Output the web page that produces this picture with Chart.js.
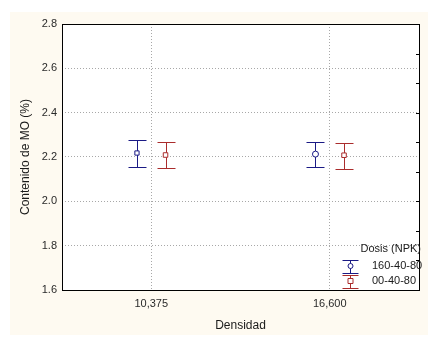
<!DOCTYPE html>
<html><head><meta charset="utf-8">
<script src="https://cdn.jsdelivr.net/npm/chart.js@4.4.0/dist/chart.umd.min.js"></script>
<style>html,body{margin:0;padding:0;background:#fff}#wrap{width:436px;height:352px}</style>
</head><body><div id="wrap"><canvas id="ch" width="436" height="352"></canvas></div>
<script>
/* ---------- datos ---------- */
const categories=['10,375','16,600'];
const seriesNames=['160-40-80','00-40-80'];
const meanA=[2.218,2.213], lowA=[2.155,2.155], highA=[2.277,2.269];
const meanB=[2.209,2.208], lowB=[2.150,2.144], highB=[2.268,2.262];
const legendTitle='Dosis (NPK)';

const BLUE='#1a1a85', RED='#aa2c2c';
const SHIFT=0.08; // desplazamiento de cada serie dentro de la categoría
const FONT='"Liberation Sans", Arial, sans-serif';

const mk=(means,lo,hi,dx)=>means.map((m,i)=>({x:i+0.5+dx,y:m,lo:lo[i],hi:hi[i]}));

/* ---------- plugins ---------- */
const bgPlugin={id:'bg',beforeDraw(c){const x=c.ctx;x.save();x.fillStyle='#fff';x.fillRect(0,0,c.width,c.height);x.fillStyle='#fefaf1';x.fillRect(10,12,418,323);x.fillStyle='#fff';const a=c.chartArea;x.fillRect(a.left,a.top,a.right-a.left,a.bottom-a.top);x.restore();}};

const errPlugin={id:'err',beforeDatasetsDraw(c){
  const x=c.ctx,ys=c.scales.y;
  c.data.datasets.forEach((ds,di)=>{
    const meta=c.getDatasetMeta(di);
    x.save();x.strokeStyle=ds.borderColor;x.lineWidth=1;
    ds.data.forEach((d,i)=>{
      const px=Math.round(meta.data[i].x)+0.5,t=Math.round(ys.getPixelForValue(d.hi))+0.5,b=Math.round(ys.getPixelForValue(d.lo))+0.5;
      x.beginPath();x.moveTo(px,t);x.lineTo(px,b);x.moveTo(px-9,t);x.lineTo(px+9,t);x.moveTo(px-9,b);x.lineTo(px+9,b);x.stroke();
    });
    x.restore();
  });
}};

const framePlugin={id:'frame',afterDraw(c){
  const x=c.ctx,a=c.chartArea;
  x.save();x.strokeStyle='#000';x.lineWidth=1;
  x.strokeRect(Math.round(a.left)+0.5,Math.round(a.top)+0.5,Math.round(a.right-a.left),Math.round(a.bottom-a.top));
  // marcas menores en el eje derecho
  const y2=c.scales.y2;
  x.beginPath();
  y2.ticks.forEach(t=>{const py=Math.round(y2.getPixelForValue(t.value))+0.5;x.moveTo(a.right-3,py);x.lineTo(a.right,py);});
  x.stroke();
  // leyenda
  x.font='11px '+FONT;x.fillStyle='#1a1a1a';x.textBaseline='middle';
  x.textAlign='right';x.fillText(legendTitle,a.right+2,a.bottom-41);
  x.textAlign='left';
  c.data.datasets.forEach((ds,i)=>{
    const cy=a.bottom-24+i*15,cx=350.5;
    x.strokeStyle=ds.borderColor;x.beginPath();
    x.moveTo(cx-8,Math.round(cy-6)+0.5);x.lineTo(cx+8,Math.round(cy-6)+0.5);
    x.moveTo(cx-8,Math.round(cy+7)+0.5);x.lineTo(cx+8,Math.round(cy+7)+0.5);
    x.moveTo(cx,cy-6);x.lineTo(cx,cy+7);x.stroke();
    x.fillStyle='#fff';x.beginPath();
    if(i===0){x.arc(cx,cy,2.5,0,Math.PI*2);}else{x.rect(cx-2.5,cy-2.5,5,5);}
    x.fill();x.stroke();
    x.fillStyle='#1a1a1a';x.fillText(ds.label,a.right-47,cy);
  });
  x.restore();
}};

const gridOpts={color:'#a8a8a8',lineWidth:1,drawTicks:false};

new Chart(document.getElementById('ch'),{
  type:'scatter',
  data:{datasets:[
    {label:seriesNames[0],data:mk(meanA,lowA,highA,-SHIFT),borderColor:BLUE,backgroundColor:'#fff',pointStyle:['rect','circle'],pointRadius:3,pointBorderWidth:1},
    {label:seriesNames[1],data:mk(meanB,lowB,highB,SHIFT),borderColor:RED,backgroundColor:'#fff',pointStyle:'rect',pointRadius:3.2,pointBorderWidth:1}
  ]},
  options:{
    responsive:false,animation:false,
    layout:{padding:{left:8,right:17,top:24,bottom:19}},
    plugins:{legend:{display:false},tooltip:{enabled:false}},
    scales:{
      x:{type:'linear',min:0,max:2,
        afterBuildTicks:s=>{s.ticks=categories.map((c,i)=>({value:i+0.5}));},
        afterFit:s=>{s.height=43;},
        ticks:{callback:v=>categories[Math.round(v-0.5)],color:'#2a2a2a',font:{family:FONT,size:11},padding:7,maxRotation:0},
        grid:gridOpts,border:{display:false,dash:[1,2]},
        title:{display:true,text:'Densidad',color:'#1a1a1a',font:{family:FONT,size:12},padding:{top:8,bottom:0}}},
      y:{min:1.6,max:2.8,
        afterBuildTicks:s=>{s.ticks=[1.6,1.8,2.0,2.2,2.4,2.6,2.8].map(v=>({value:v}));},
        afterFit:s=>{s.width=54;},
        ticks:{callback:v=>v.toFixed(1),color:'#2a2a2a',font:{family:FONT,size:11},padding:5},
        grid:gridOpts,border:{display:false,dash:[1,2]},
        title:{display:true,text:'Contenido de MO (%)',color:'#1a1a1a',font:{family:FONT,size:12},padding:{top:10,bottom:0}}},
      y2:{display:false,position:'right',min:0,max:9,ticks:{stepSize:1}}
    }
  },
  plugins:[bgPlugin,errPlugin,framePlugin]
});
</script>
</body></html>
